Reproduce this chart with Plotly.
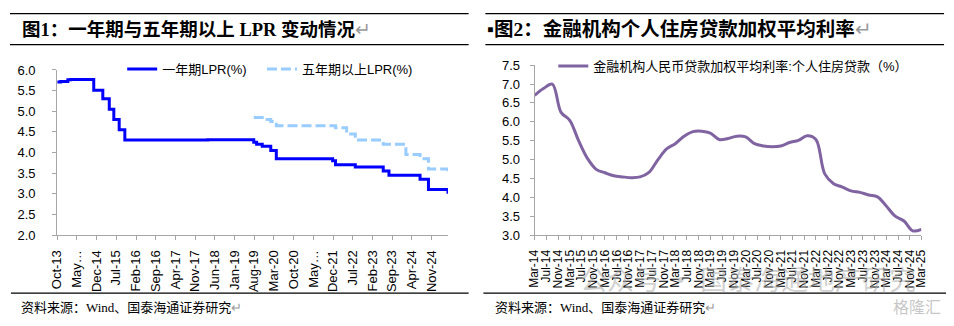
import plotly.graph_objects as go

# ---------------- Left chart data: LPR change points ----------------
lpr1y_dates = ["2013-10-25", "2013-12-02", "2014-02-17", "2014-03-20", "2014-11-24",
               "2015-03-02", "2015-05-11", "2015-06-29", "2015-08-26", "2015-10-26",
               "2018-04-10", "2019-08-20", "2019-09-20", "2019-11-20", "2020-02-20",
               "2020-04-20", "2021-12-20", "2022-01-20", "2022-08-22", "2023-06-20",
               "2023-08-21", "2024-07-22", "2024-10-21", "2025-05-20"]
lpr1y_values = [5.71, 5.72, 5.76, 5.77, 5.51,
                5.30, 5.05, 4.80, 4.55, 4.30,
                4.31, 4.25, 4.20, 4.15, 4.05,
                3.85, 3.80, 3.70, 3.65, 3.55,
                3.45, 3.35, 3.10, 3.00]

lpr5y_dates = ["2019-08-20", "2019-11-20", "2020-02-20", "2020-04-20", "2022-01-20",
               "2022-05-20", "2022-08-22", "2023-06-20", "2024-02-20", "2024-07-22",
               "2024-10-21", "2025-05-20"]
lpr5y_values = [4.85, 4.80, 4.75, 4.65, 4.60,
                4.45, 4.30, 4.20, 3.95, 3.85,
                3.60, 3.50]

left_tick_dates = ["2013-10-25", "2014-05-25", "2014-12-25", "2015-07-25", "2016-02-25",
                   "2016-09-25", "2017-04-25", "2017-11-25", "2018-06-25", "2019-01-25",
                   "2019-08-25", "2020-03-25", "2020-10-25", "2021-05-25", "2021-12-25",
                   "2022-07-25", "2023-02-25", "2023-09-25", "2024-04-25", "2024-11-25"]
left_tick_labels = ["Oct-13", "May…", "Dec-14", "Jul-15", "Feb-16", "Sep-16", "Apr-17",
                    "Nov-17", "Jun-18", "Jan-19", "Aug-19", "Mar-20", "Oct-20", "May…",
                    "Dec-21", "Jul-22", "Feb-23", "Sep-23", "Apr-24", "Nov-24"]

# ---------------- Right chart data: quarterly mortgage rate ----------------
mort_dates = ["2014-03-01", "2014-06-01", "2014-09-01", "2014-12-01",
              "2015-03-01", "2015-06-01", "2015-09-01", "2015-12-01",
              "2016-03-01", "2016-06-01", "2016-09-01", "2016-12-01",
              "2017-03-01", "2017-06-01", "2017-09-01", "2017-12-01",
              "2018-03-01", "2018-06-01", "2018-09-01", "2018-12-01",
              "2019-03-01", "2019-06-01", "2019-09-01", "2019-12-01",
              "2020-03-01", "2020-06-01", "2020-09-01", "2020-12-01",
              "2021-03-01", "2021-06-01", "2021-09-01", "2021-12-01",
              "2022-03-01", "2022-06-01", "2022-09-01", "2022-12-01",
              "2023-03-01", "2023-06-01", "2023-09-01", "2023-12-01",
              "2024-03-01", "2024-06-01", "2024-09-01", "2024-12-01",
              "2025-03-01"]
mort_values = [6.70, 6.88, 7.00, 6.25,
               6.04, 5.50, 5.03, 4.74,
               4.65, 4.57, 4.54, 4.52,
               4.54, 4.66, 4.99, 5.28,
               5.42, 5.62, 5.74, 5.75,
               5.70, 5.53, 5.56, 5.62,
               5.60, 5.42, 5.36, 5.34,
               5.36, 5.45, 5.51, 5.63,
               5.53, 4.62, 4.36, 4.27,
               4.17, 4.13, 4.06, 4.01,
               3.77, 3.50, 3.37, 3.11,
               3.15]

right_tick_dates = ["2014-03-01", "2014-07-01", "2014-11-01", "2015-03-01", "2015-07-01",
                    "2015-11-01", "2016-03-01", "2016-07-01", "2016-11-01", "2017-03-01",
                    "2017-07-01", "2017-11-01", "2018-03-01", "2018-07-01", "2018-11-01",
                    "2019-03-01", "2019-07-01", "2019-11-01", "2020-03-01", "2020-07-01",
                    "2020-11-01", "2021-03-01", "2021-07-01", "2021-11-01", "2022-03-01",
                    "2022-07-01", "2022-11-01", "2023-03-01", "2023-07-01", "2023-11-01",
                    "2024-03-01", "2024-07-01", "2024-11-01", "2025-03-01"]
right_tick_labels = ["Mar-14", "Jul-14", "Nov-14", "Mar-15", "Jul-15", "Nov-15",
                     "Mar-16", "Jul-16", "Nov-16", "Mar-17", "Jul-17", "Nov-17",
                     "Mar-18", "Jul-18", "Nov-18", "Mar-19", "Jul-19", "Nov-19",
                     "Mar-20", "Jul-20", "Nov-20", "Mar-21", "Jul-21", "Nov-21",
                     "Mar-22", "Jul-22", "Nov-22", "Mar-23", "Jul-23", "Nov-23",
                     "Mar-24", "Jul-24", "Nov-24", "Mar-25"]

W, H = 954, 326
def px(x):
    return x / W
def py(y):
    return 1 - y / H

SANS = "Liberation Sans, Arial, Noto Sans CJK SC"
SERIF = "Liberation Serif, Noto Sans CJK SC"
AXIS_GRAY = "#A6A6A6"

fig = go.Figure()

fig.add_trace(go.Scatter(
    x=lpr1y_dates, y=lpr1y_values, mode="lines", name="一年期LPR(%)",
    line=dict(color="#0000FF", width=3, shape="hv"),
    xaxis="x", yaxis="y", legend="legend"))
fig.add_trace(go.Scatter(
    x=lpr5y_dates, y=lpr5y_values, mode="lines", name="五年期以上LPR(%)",
    line=dict(color="#99CCFF", width=3, shape="hv", dash="10px,4px"),
    xaxis="x", yaxis="y", legend="legend3"))
fig.add_trace(go.Scatter(
    x=mort_dates, y=mort_values, mode="lines",
    name="金融机构人民币贷款加权平均利率:个人住房贷款（%）",
    line=dict(color="#8064A2", width=3, shape="spline", smoothing=1.0),
    xaxis="x2", yaxis="y2", legend="legend2"))

common_x = dict(
    type="date", showgrid=False, zeroline=False, showline=True,
    linecolor=AXIS_GRAY, linewidth=1, ticks="outside", ticklen=4,
    tickcolor=AXIS_GRAY, tickangle=-90, ticklabelstandoff=5,
)
common_y = dict(
    showgrid=False, zeroline=False, showline=True, linecolor=AXIS_GRAY,
    linewidth=1, ticks="outside", ticklen=4, tickcolor=AXIS_GRAY,
    dtick=0.5, tickformat=".1f",
    tickfont=dict(family=SANS, size=13, color="#000000"),
)

legend_common = dict(orientation="h", xanchor="left", yanchor="middle",
                     bgcolor="rgba(0,0,0,0)", itemwidth=30,
                     font=dict(family=SANS, size=13, color="#000000"))

fig.update_layout(
    width=W, height=H,
    margin=dict(l=0, r=0, t=0, b=0),
    paper_bgcolor="white", plot_bgcolor="white",
    xaxis=dict(common_x, domain=[px(50), px(447)],
               range=["2013-10-25", "2025-05-20"],
               tickvals=left_tick_dates, ticktext=left_tick_labels,
               tickfont=dict(family=SANS, size=13, color="#000000"),
               anchor="y"),
    yaxis=dict(common_y, domain=[py(239), py(66)], range=[2, 6], anchor="x",
               ticklabelstandoff=14),
    xaxis2=dict(common_x, domain=[px(535), px(928)],
                range=["2014-03-01", "2025-03-01"],
                tickvals=right_tick_dates, ticktext=right_tick_labels,
                tickfont=dict(family=SANS, size=12, color="#000000"),
                anchor="y2"),
    yaxis2=dict(common_y, domain=[py(239), py(61)], range=[3, 7.5], anchor="x2",
                ticklabelstandoff=7),
    legend=dict(legend_common, x=px(116), y=py(65)),
    legend3=dict(legend_common, x=px(258), y=py(65)),
    legend2=dict(legend_common, x=px(554), y=py(62)),
    showlegend=True,
)

# Decorative rules (report layout)
rules = [
    (2, 468, 7), (2, 468, 39.5), (3, 468, 300),
    (485, 951, 7), (485, 951, 39.5), (483, 953, 300),
]
for x0, x1, y in rules:
    fig.add_shape(type="line", xref="paper", yref="paper",
                  x0=px(x0), x1=px(x1), y0=py(y), y1=py(y),
                  line=dict(color="#000000", width=1.2))

RET = "<span style='color:#9a9a9a;font-weight:normal'>↵</span>"
annots = [
    dict(text="<b>图1：一年期与五年期以上 LPR 变动情况</b>" + RET, x=px(12), y=py(23.5), size=18.5, family=SERIF),
    dict(text="<b>▪图2：金融机构个人住房贷款加权平均利率</b>" + RET, x=px(485), y=py(23.5), size=19.5, family=SERIF),
    dict(text="资料来源：Wind、国泰海通证券研究" + RET, x=px(11), y=py(315), size=13, family=SERIF),
    dict(text="资料来源：Wind、国泰海通证券研究" + RET, x=px(493), y=py(315), size=13, family=SERIF),
]
for a in annots:
    fig.add_annotation(text=a["text"], xref="paper", yref="paper", x=a["x"], y=a["y"],
                       xanchor="left", yanchor="middle", showarrow=False,
                       font=dict(family=a["family"], size=a["size"], color="#000000"))

# Watermarks
fig.add_annotation(text="公众号 · 国泰海通地产研究", xref="paper", yref="paper",
                   x=px(752), y=py(285), xanchor="center", yanchor="middle",
                   showarrow=False,
                   font=dict(family="Noto Sans CJK SC", size=27, color="rgba(170,170,170,0.55)"))
fig.add_annotation(text="格隆汇", xref="paper", yref="paper",
                   x=px(950), y=py(313), xanchor="right", yanchor="middle",
                   showarrow=False,
                   font=dict(family="Noto Sans CJK SC", size=16, color="rgba(160,160,160,0.6)"))

fig.write_html("out.html", config={"displayModeBar": False})
